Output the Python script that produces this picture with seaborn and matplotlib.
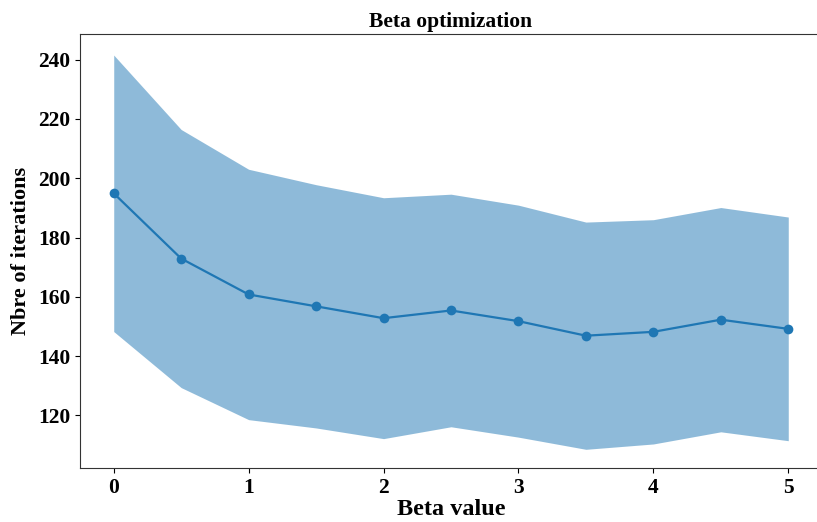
import matplotlib
matplotlib.use("Agg")
import matplotlib.pyplot as plt
import seaborn as sns
import numpy as np
import pandas as pd

# Beta sweep: mean number of iterations and its standard deviation
beta = [0, 0.5, 1, 1.5, 2, 2.5, 3, 3.5, 4, 4.5, 5]
mean_iter = [194.9, 172.9, 160.8, 156.8, 152.8, 155.4, 151.8, 146.9, 148.2, 152.3, 149.2]
std_iter = [46.6, 43.5, 42.2, 41.0, 40.6, 39.2, 39.1, 38.3, 37.8, 37.8, 37.7]

sns.set_style("ticks")
plt.rcParams["font.family"] = ["Liberation Serif", "DejaVu Serif"]
plt.rcParams["font.weight"] = "bold"
plt.rcParams["text.color"] = "black"
plt.rcParams["axes.labelcolor"] = "black"
plt.rcParams["xtick.color"] = "black"
plt.rcParams["ytick.color"] = "black"

df = pd.DataFrame({"beta": beta, "mean": mean_iter, "std": std_iter})
lower = df["mean"] - df["std"]
upper = df["mean"] + df["std"]

fig = plt.figure(figsize=(8.17, 5.22), dpi=100)
ax = fig.add_axes([80 / 817, 1 - 468 / 522, 742 / 817, 434 / 522])

ax.fill_between(df["beta"], lower, upper, color="#1f77b4", alpha=0.5, linewidth=0)
sns.lineplot(data=df, x="beta", y="mean", marker="o", color="#1f77b4",
             markeredgewidth=0, markersize=7, linewidth=1.6, ax=ax)

ax.set_xlim(-0.25, 5.25)
ax.set_ylim(102.3, 248.6)
ax.set_yticks([120, 140, 160, 180, 200, 220, 240])
ax.set_xticks([0, 1, 2, 3, 4, 5])

ax.set_title("Beta optimization", fontsize=15.5, fontweight="bold", pad=5)
ax.set_xlabel("Beta value", fontsize=17.5, fontweight="bold", labelpad=1)
ax.set_ylabel("Nbre of iterations", fontsize=16, fontweight="bold", labelpad=5)
ax.tick_params(labelsize=15.5)
for lab in ax.get_xticklabels() + ax.get_yticklabels():
    lab.set_fontweight("bold")
for sp in ax.spines.values():
    sp.set_color("#333333")
ax.spines["right"].set_visible(False)

fig.savefig("out.png", dpi=100)
